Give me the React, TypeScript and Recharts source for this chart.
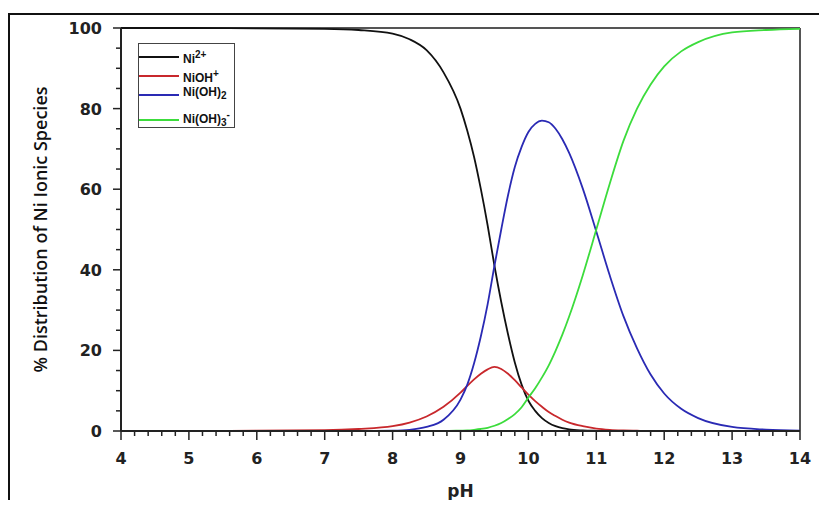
import React from "react";
import { LineChart, Line, XAxis, YAxis, ReferenceLine } from "recharts";

// pH grid and % distribution
const phValues = [4, 5, 6, 7, 7.5, 8, 8.25, 8.5, 8.75, 9, 9.1, 9.2, 9.3, 9.4, 9.5, 9.6, 9.7, 9.8, 9.9, 10, 10.1, 10.2, 10.3, 10.4, 10.5, 10.6, 10.8, 11, 11.2, 11.4, 11.6, 11.8, 12, 12.25, 12.5, 13, 13.5, 14];
const ni2 = [100, 100, 99.9, 99.8, 99.5, 98.6, 97.2, 94.5, 89, 80, 74.5, 68, 60, 51, 41, 32, 24, 17, 11.5, 7.5, 5, 3.2, 2, 1.2, 0.7, 0.4, 0.15, 0.05, 0, 0, 0, 0, 0, 0, 0, 0, 0, 0];
const niOH = [0, 0, 0.1, 0.2, 0.5, 1.2, 2.1, 3.6, 6, 9.5, 11.2, 12.8, 14.2, 15.3, 15.9, 15.4, 14.2, 12.6, 10.8, 9, 7.4, 6, 4.7, 3.7, 2.8, 2.1, 1.2, 0.6, 0.3, 0.15, 0.06, 0, 0, 0, 0, 0, 0, 0];
const niOH2 = [0, 0, 0, 0, 0, 0.1, 0.3, 1, 2.8, 7.8, 11.5, 16.8, 23.5, 31.5, 41, 50, 58.5, 65.5, 70.5, 74.2, 76.2, 77, 76.6, 75, 72.4, 69, 60.2, 49.5, 38.5, 28.5, 20.5, 14, 9.3, 5.5, 3.2, 1, 0.35, 0.1];
const niOH3 = [0, 0, 0, 0, 0, 0, 0, 0, 0, 0.1, 0.15, 0.3, 0.5, 0.8, 1.3, 2, 3, 4.2, 5.9, 8.3, 10.6, 13.3, 16.3, 19.9, 23.9, 28.4, 38.6, 50, 61.5, 72, 80, 86, 90.5, 94.2, 96.5, 98.9, 99.5, 99.8];

const xMajor = [4, 5, 6, 7, 8, 9, 10, 11, 12, 13, 14];
const yMajor = [0, 20, 40, 60, 80, 100];

const data = phValues.map((ph, i) => ({
  ph,
  ni2: ni2[i],
  niOH: niOH[i],
  niOH2: niOH2[i],
  niOH3: niOH3[i],
}));

// minor ticks every 0.2 pH / 5 %
const xTicks: number[] = [];
for (let i = 0; i <= 50; i++) xTicks.push(Math.round((4 + i * 0.2) * 10) / 10);
const yTicks: number[] = [];
for (let i = 0; i <= 20; i++) yTicks.push(i * 5);

const tickFont = "'DejaVu Sans', Verdana, sans-serif";

const XTick = (props: any) => {
  const { x, y, payload } = props;
  const major = xMajor.includes(payload.value);
  return (
    <g>
      <line x1={x} y1={y} x2={x} y2={y + (major ? 9 : 5)} stroke="#222" strokeWidth={1.5} />
      {major && (
        <text x={x} y={y + 33} textAnchor="middle" fontFamily={tickFont} fontWeight="bold" fontSize={16} fill="#222">
          {payload.value}
        </text>
      )}
    </g>
  );
};

const YTick = (props: any) => {
  const { x, y, payload } = props;
  const major = yMajor.includes(payload.value);
  return (
    <g>
      <line x1={x} y1={y} x2={x - (major ? 8 : 5)} y2={y} stroke="#222" strokeWidth={1.5} />
      {major && (
        <text x={x - 19} y={y + 6} textAnchor="end" fontFamily={tickFont} fontWeight="bold" fontSize={16} fill="#222">
          {payload.value}
        </text>
      )}
    </g>
  );
};

const PhLabel = (props: any) => {
  const { viewBox } = props;
  return (
    <text x={viewBox.x + viewBox.width / 2} y={viewBox.y + 66} textAnchor="middle" fontFamily={tickFont} fontWeight="bold" fontSize={17} fill="#222">
      pH
    </text>
  );
};

const YLabel = (props: any) => {
  const { viewBox } = props;
  const cx = 32;
  const cy = viewBox.y + viewBox.height / 2;
  return (
    <text x={cx} y={cy} transform={`rotate(-90, ${cx}, ${cy})`} textAnchor="middle" dominantBaseline="central" fontFamily="'Open Sans', sans-serif" fontWeight={600} fontSize={18} fill="#111">
      % Distribution of Ni Ionic Species
    </text>
  );
};

const series = [
  { key: "ni2", color: "#111111", label: <>Ni<sup>2+</sup></> },
  { key: "niOH", color: "#c8282c", label: <>NiOH<sup>+</sup></> },
  { key: "niOH2", color: "#2a2ab4", label: <>Ni(OH)<sub>2</sub></> },
  { key: "niOH3", color: "#3cdc3c", label: <>Ni(OH)<sub>3</sub><sup>-</sup></> },
];

const LegendBox = () => (
  <div style={{ position: "absolute", left: 130, top: 30, border: "1.5px solid #444", width: 97, height: 85, boxSizing: "border-box", paddingTop: 3, background: "#fff" }}>
    {series.map((s, i) => (
      <div key={s.key} style={{ display: "flex", alignItems: "center", height: 19, marginTop: i === 3 ? 6 : 0 }}>
        <div style={{ width: 40, height: 2, background: s.color }} />
        <span style={{ marginLeft: 4, fontFamily: "'Liberation Sans', Arial, sans-serif", fontWeight: "bold", fontSize: 12, color: "#111", lineHeight: "12px" }}>
          {s.label}
        </span>
      </div>
    ))}
  </div>
);

export default function App() {
  return (
    <div style={{ paddingTop: 5 }}>
      <div style={{ position: "relative", width: 811, height: 487 }}>
        {/* outer figure frame: top and left edges only are visible */}
        <div style={{ position: "absolute", left: 0, top: 0, width: 811, height: 2, background: "#111" }} />
        <div style={{ position: "absolute", left: 0, top: 0, width: 2, height: 495, background: "#111" }} />
        <div style={{ position: "absolute", left: 0, top: 0, width: 811, height: 495 }}>
          <LineChart width={811} height={495} data={data} margin={{ top: 15, right: 19, left: 0, bottom: 8 }}>
            <XAxis
              dataKey="ph"
              type="number"
              domain={[4, 14]}
              ticks={xTicks}
              interval={0}
              tickSize={0}
              tickMargin={0}
              tick={XTick}
              height={69}
              axisLine={{ stroke: "#222", strokeWidth: 2 }}
              label={<PhLabel />}
            />
            <YAxis
              type="number"
              domain={[0, 100]}
              ticks={yTicks}
              interval={0}
              tickSize={0}
              tickMargin={0}
              tick={YTick}
              width={113}
              axisLine={{ stroke: "#222", strokeWidth: 2 }}
              label={<YLabel />}
            />
            <ReferenceLine x={14} stroke="#555" strokeWidth={2} ifOverflow="visible" />
            <ReferenceLine y={100} stroke="#555" strokeWidth={2} ifOverflow="visible" />
            {series.map((s) => (
              <Line key={s.key} type="monotone" dataKey={s.key} stroke={s.color} strokeWidth={1.8} dot={false} isAnimationActive={false} />
            ))}
          </LineChart>
          <LegendBox />
        </div>
      </div>
    </div>
  );
}
